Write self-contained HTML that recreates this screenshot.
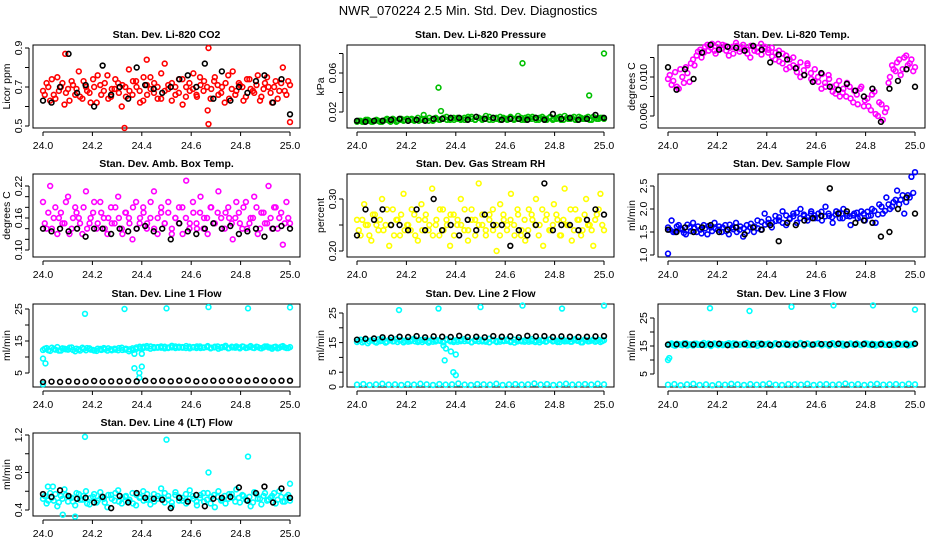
<!DOCTYPE html>
<html><head><meta charset="utf-8">
<style>
html,body{margin:0;padding:0;background:#fff;}
svg{display:block;font-family:"Liberation Sans",sans-serif;}
</style></head>
<body>
<svg id="chart" width="936" height="540" viewBox="0 0 936 540" xmlns="http://www.w3.org/2000/svg">
<rect width="936" height="540" fill="#fff"/>
<text x="468" y="15" text-anchor="middle" font-size="13">NWR_070224  2.5 Min. Std. Dev. Diagnostics</text>
</svg>
<script>
// ---------- data ----------
const co2Red=[0.68,0.72,0.63,0.66,0.75,0.70,0.61,0.69,0.73,0.66,0.78,0.64,0.70,0.67,0.74,0.62,0.71,0.68,0.76,0.65,0.69,0.72,0.60,0.70,0.79,0.66,0.73,0.68,0.63,0.71,0.75,0.67,0.70,0.64,0.82,0.69,0.72,0.66,0.74,0.61,0.70,0.68,0.77,0.65,0.71,0.73,0.58,0.69,0.75,0.66,0.70,0.72,0.64,0.78,0.68,0.71,0.63,0.74,0.69,0.67,0.76,0.65,0.72,0.70,0.62,0.73,0.68,0.80,0.66,0.71];
const co2Red2=[0.66,0.70,0.74,0.64,0.68,0.72,0.67,0.63,0.71,0.69,0.65,0.73,0.68,0.62,0.70,0.76,0.66,0.72,0.64,0.69,0.74,0.67,0.71,0.65,0.68,0.73,0.70,0.62,0.75,0.66,0.69,0.72,0.64,0.77,0.68,0.71,0.63,0.70,0.67,0.74,0.65,0.72,0.69,0.66,0.75,0.68,0.70,0.64,0.73,0.71,0.67,0.62,0.76,0.69,0.66,0.72,0.70,0.65,0.74,0.68,0.71,0.63,0.69,0.75,0.67,0.70,0.64,0.72,0.68,0.73];
const co2OutX=[24.33,24.67,25.0,24.67,24.09,24.42];
const co2OutY=[0.49,0.51,0.52,0.90,0.87,0.84];
const co2Black=[0.63,0.62,0.70,0.87,0.67,0.71,0.60,0.81,0.66,0.70,0.64,0.80,0.71,0.69,0.67,0.70,0.74,0.76,0.70,0.82,0.64,0.78,0.63,0.70,0.67,0.73,0.76,0.62,0.74,0.56];

const presGreen=[0.010,0.011,0.010,0.012,0.010,0.011,0.011,0.010,0.012,0.011,0.013,0.010,0.012,0.011,0.013,0.012,0.011,0.014,0.012,0.013,0.011,0.012,0.014,0.012,0.013,0.015,0.012,0.014,0.013,0.012,0.014,0.013,0.015,0.012,0.014,0.013,0.016,0.012,0.014,0.013,0.015,0.013,0.012,0.014,0.013,0.016,0.012,0.014,0.013,0.015,0.012,0.014,0.013,0.012,0.015,0.013,0.014,0.012,0.016,0.013,0.014,0.012,0.015,0.013,0.014,0.012,0.015,0.013,0.014,0.013];
const presGreen2=[0.011,0.010,0.012,0.011,0.010,0.012,0.010,0.011,0.013,0.010,0.012,0.011,0.013,0.012,0.011,0.013,0.012,0.011,0.013,0.012,0.014,0.011,0.013,0.012,0.014,0.012,0.013,0.012,0.014,0.013,0.012,0.015,0.013,0.012,0.014,0.012,0.013,0.015,0.012,0.014,0.012,0.014,0.013,0.015,0.012,0.013,0.014,0.012,0.015,0.013,0.014,0.012,0.015,0.013,0.014,0.012,0.013,0.015,0.012,0.014,0.013,0.015,0.012,0.014,0.013,0.015,0.012,0.014,0.013,0.014];
const presOutX=[24.33,24.67,24.94,25.0,24.34,24.27];
const presOutY=[0.045,0.070,0.037,0.080,0.021,0.017];
const presBlack=[0.011,0.010,0.011,0.011,0.012,0.013,0.011,0.012,0.011,0.013,0.013,0.014,0.014,0.012,0.015,0.013,0.014,0.012,0.013,0.013,0.012,0.014,0.012,0.018,0.013,0.014,0.012,0.013,0.017,0.014];

const tempMag=[0.0098,0.0092,0.0105,0.0088,0.0100,0.0110,0.0095,0.0118,0.0122,0.0128,0.0125,0.0133,0.0130,0.0127,0.0134,0.0129,0.0132,0.0122,0.0131,0.0135,0.0126,0.0133,0.0128,0.0120,0.0131,0.0126,0.0134,0.0129,0.0125,0.0130,0.0118,0.0127,0.0114,0.0122,0.0110,0.0120,0.0105,0.0115,0.0102,0.0112,0.0098,0.0108,0.0095,0.0103,0.0090,0.0098,0.0085,0.0092,0.0080,0.0088,0.0094,0.0078,0.0086,0.0072,0.0090,0.0076,0.0070,0.0082,0.0062,0.0074,0.0056,0.0068,0.0100,0.0108,0.0115,0.0102,0.0120,0.0112,0.0118,0.0110];
const tempMag2=[0.0102,0.0096,0.0090,0.0108,0.0094,0.0104,0.0114,0.0112,0.0126,0.0120,0.0131,0.0127,0.0134,0.0124,0.0130,0.0133,0.0127,0.0130,0.0124,0.0132,0.0129,0.0130,0.0124,0.0132,0.0127,0.0130,0.0123,0.0131,0.0128,0.0121,0.0125,0.0116,0.0124,0.0108,0.0118,0.0112,0.0110,0.0100,0.0107,0.0114,0.0104,0.0096,0.0100,0.0088,0.0094,0.0102,0.0090,0.0083,0.0096,0.0084,0.0080,0.0090,0.0074,0.0082,0.0088,0.0070,0.0078,0.0066,0.0085,0.0060,0.0072,0.0064,0.0094,0.0112,0.0106,0.0118,0.0108,0.0122,0.0114,0.0106];
const tempBlack=[0.0110,0.0087,0.0108,0.0098,0.0125,0.0133,0.0128,0.0131,0.0130,0.0127,0.0132,0.0128,0.0115,0.0123,0.0118,0.0109,0.0102,0.0095,0.0104,0.0090,0.0087,0.0093,0.0086,0.0080,0.0088,0.0054,0.0088,0.0096,0.0108,0.0090];

const ambMag=[0.19,0.14,0.22,0.16,0.13,0.17,0.15,0.20,0.14,0.18,0.16,0.13,0.21,0.15,0.17,0.14,0.19,0.16,0.13,0.18,0.15,0.20,0.14,0.17,0.16,0.12,0.19,0.15,0.18,0.14,0.16,0.21,0.13,0.17,0.15,0.19,0.14,0.16,0.18,0.13,0.23,0.15,0.17,0.14,0.20,0.16,0.13,0.18,0.15,0.21,0.14,0.17,0.16,0.12,0.19,0.15,0.18,0.14,0.16,0.20,0.13,0.17,0.15,0.22,0.14,0.18,0.16,0.11,0.19,0.15];
const ambMag2=[0.15,0.17,0.14,0.18,0.16,0.15,0.19,0.13,0.16,0.17,0.15,0.18,0.14,0.16,0.19,0.15,0.17,0.14,0.16,0.15,0.18,0.16,0.13,0.17,0.15,0.18,0.14,0.16,0.17,0.15,0.19,0.14,0.16,0.18,0.15,0.17,0.13,0.16,0.15,0.18,0.16,0.14,0.19,0.15,0.17,0.14,0.16,0.18,0.15,0.17,0.16,0.14,0.18,0.15,0.16,0.17,0.14,0.19,0.15,0.16,0.18,0.14,0.17,0.15,0.16,0.18,0.14,0.17,0.15,0.16];
const ambBlack=[0.14,0.135,0.14,0.135,0.14,0.125,0.14,0.14,0.13,0.14,0.135,0.14,0.145,0.135,0.14,0.12,0.15,0.135,0.13,0.14,0.15,0.14,0.145,0.13,0.135,0.14,0.125,0.14,0.145,0.14];

const rhYellow=[0.26,0.23,0.29,0.25,0.22,0.27,0.24,0.30,0.25,0.21,0.28,0.26,0.23,0.31,0.25,0.24,0.27,0.22,0.29,0.26,0.24,0.32,0.25,0.23,0.28,0.26,0.21,0.27,0.25,0.30,0.24,0.22,0.28,0.26,0.33,0.25,0.23,0.27,0.24,0.20,0.29,0.26,0.25,0.31,0.23,0.27,0.24,0.22,0.28,0.26,0.30,0.25,0.21,0.27,0.24,0.29,0.26,0.23,0.32,0.25,0.22,0.28,0.26,0.24,0.30,0.25,0.21,0.27,0.31,0.24];
const rhYellow2=[0.24,0.26,0.25,0.23,0.27,0.25,0.26,0.24,0.28,0.25,0.23,0.26,0.27,0.24,0.25,0.28,0.23,0.26,0.24,0.27,0.25,0.23,0.26,0.28,0.24,0.25,0.27,0.23,0.26,0.25,0.28,0.24,0.26,0.23,0.25,0.27,0.24,0.26,0.28,0.25,0.23,0.27,0.24,0.26,0.25,0.28,0.23,0.26,0.24,0.27,0.25,0.23,0.28,0.26,0.24,0.25,0.27,0.23,0.26,0.25,0.28,0.24,0.26,0.23,0.27,0.25,0.24,0.26,0.28,0.25];
const rhBlack=[0.23,0.28,0.26,0.28,0.25,0.25,0.24,0.28,0.24,0.30,0.24,0.25,0.23,0.26,0.24,0.27,0.25,0.25,0.21,0.24,0.23,0.25,0.33,0.24,0.25,0.25,0.24,0.26,0.28,0.27];

const flowBlue=[1.60,1.75,1.50,1.65,1.55,1.45,1.60,1.70,1.50,1.55,1.65,1.45,1.60,1.70,1.55,1.50,1.65,1.45,1.60,1.70,1.55,1.40,1.65,1.60,1.50,1.75,1.55,1.90,1.70,1.60,1.85,1.75,1.95,1.65,1.80,1.90,1.70,2.00,1.85,1.75,1.95,1.80,1.90,1.75,2.05,1.85,1.70,1.95,1.80,2.00,1.85,1.65,1.90,1.80,1.95,1.75,1.85,2.00,1.70,2.10,1.90,2.25,2.00,2.15,2.40,2.20,1.90,2.30,2.70,2.80];
const flowBlue2=[1.55,1.50,1.62,1.58,1.48,1.66,1.52,1.58,1.62,1.47,1.58,1.63,1.52,1.57,1.62,1.60,1.52,1.66,1.56,1.50,1.62,1.58,1.52,1.68,1.62,1.58,1.72,1.66,1.78,1.70,1.74,1.82,1.70,1.86,1.78,1.84,1.92,1.80,1.88,1.82,1.90,1.86,1.80,1.94,1.84,1.90,1.82,1.88,1.92,1.80,1.90,1.84,1.86,1.92,1.82,1.90,1.94,1.86,1.96,1.88,2.05,1.96,2.10,2.05,2.20,2.10,2.30,2.15,2.25,2.35];
const flowOutX=[24.0];
const flowOutY=[1.03];
const flowBlack=[1.55,1.50,1.60,1.50,1.60,1.65,1.50,1.55,1.60,1.45,1.60,1.55,1.65,1.30,1.70,1.65,1.75,1.80,1.85,2.45,1.90,1.95,1.70,1.75,1.70,1.40,1.50,2.00,2.25,1.90];

const line1Cyan=[12.2,12.8,11.9,12.5,13.1,12.0,12.6,12.3,13.0,11.8,12.4,12.9,12.1,12.7,12.2,11.9,12.5,12.8,12.0,12.4,12.6,12.1,12.9,12.3,11.8,12.7,12.5,13.2,12.8,13.4,12.6,13.1,12.9,13.3,12.7,13.0,13.5,12.8,13.2,12.9,13.4,12.7,13.1,13.3,12.8,13.0,13.4,12.9,13.2,12.6,13.1,13.5,12.8,13.0,13.3,12.7,13.2,12.9,13.4,12.8,13.1,12.7,13.3,13.0,12.6,13.2,12.9,13.4,12.8,13.1];
const line1Cyan2=[12.6,12.1,12.9,12.3,12.0,12.7,12.4,12.9,12.2,12.6,12.0,12.5,12.8,12.3,12.0,12.6,12.2,12.4,12.7,12.1,12.3,12.8,12.2,12.6,12.4,12.2,13.0,12.7,13.2,12.9,13.3,12.8,13.1,12.9,13.2,12.8,13.0,13.3,12.9,13.1,12.8,13.2,13.0,12.8,13.3,12.9,13.1,12.7,13.0,13.3,12.9,13.1,12.7,13.2,12.9,13.0,13.3,12.8,13.1,12.9,13.2,12.8,13.0,13.3,12.9,13.1,12.7,13.2,13.0,12.8];
const line1OutX=[24.0,24.01,24.17,24.33,24.5,24.67,24.83,25.0,24.37,24.4,24.39,24.39,24.4,24.37,24.0];
const line1OutY=[9.5,8,23.5,25,25.2,25.6,25.2,25.5,6.5,7,5,3.5,11,11,1.5];
const line1Black=[2.2,2.3,2.2,2.4,2.3,2.3,2.5,2.3,2.4,2.4,2.5,2.4,2.6,2.5,2.6,2.4,2.6,2.7,2.4,2.5,2.6,2.5,2.7,2.6,2.5,2.7,2.6,2.5,2.6,2.6];

const line2Cyan=[15.2,16.0,15.5,14.8,15.8,15.3,16.1,15.6,15.0,15.9,15.4,16.2,15.7,15.1,15.8,15.5,16.3,15.2,15.9,15.6,15.0,16.0,15.4,15.8,15.3,16.1,15.7,15.2,15.9,15.5,16.2,15.6,15.1,16.0,15.4,15.8,15.3,16.3,15.7,15.2,15.9,15.5,16.1,15.6,15.0,16.0,15.4,15.8,15.3,16.2,15.7,15.1,15.9,15.5,16.1,15.6,15.2,16.0,15.4,15.8,15.3,16.2,15.7,15.1,15.9,15.5,16.0,15.6,15.2,15.8];
const line2Cyan2=[15.6,15.1,16.0,15.4,15.7,15.0,15.5,16.1,15.3,15.8,15.5,15.2,15.9,15.6,15.3,16.0,15.4,15.7,15.2,15.9,15.5,15.3,15.8,15.6,15.1,15.9,15.4,15.7,15.3,16.0,15.5,15.8,15.2,15.6,16.1,15.4,15.7,15.1,15.9,15.5,15.3,15.8,15.6,15.2,16.0,15.4,15.7,15.3,15.9,15.5,15.2,15.8,15.6,15.3,16.0,15.4,15.7,15.2,15.9,15.5,15.3,15.8,15.6,15.1,16.0,15.4,15.7,15.3,15.9,15.5];
const line2Low=[0.8,1.0,0.7,0.9,1.1,0.8,0.9,0.7,1.0,0.8,1.1,0.9,0.7,1.0,0.8,0.9,1.2,0.8,0.7,1.0,0.9,0.8,1.1,0.7,0.9,1.0,0.8,0.9,1.2,0.8,1.0,0.7,0.9,1.1,0.8,0.9,1.0,0.8,1.1,0.9];
const line2OutX=[24.17,24.33,24.5,24.67,24.83,25.0,24.35,24.36,24.355,24.39,24.4,24.38,24.4];
const line2OutY=[26,26.5,27,27.5,26.5,27.5,14,13,9,5,4,12,11];
const line2Black=[16.0,16.3,16.4,16.8,16.7,17.0,16.9,17.2,16.8,17.1,17.0,16.9,17.3,16.9,17.0,16.8,17.2,17.0,17.1,16.8,17.3,17.1,17.2,16.9,17.1,17.0,16.9,17.0,17.1,17.2];

const line3Cyan=[15.4,15.9,15.1,15.7,15.3,16.0,15.5,15.2,15.8,15.4,16.1,15.6,15.0,15.9,15.3,15.7,15.5,16.0,15.2,15.8,15.4,15.6,16.1,15.3,15.7,15.1,15.9,15.5,15.8,15.2,16.0,15.4,15.6,15.9,15.3,15.7,15.5,16.1,15.2,15.8,15.4,15.6,15.9,15.3,15.7,15.1,16.0,15.5,15.8,15.2,15.6,15.9,15.4,15.7,15.3,16.0,15.5,15.8,15.2,15.6,15.9,15.4,15.7,15.3,16.0,15.5,15.8,15.2,15.6,15.9];
const line3Cyan2=[15.7,15.3,15.8,15.5,15.9,15.2,15.6,15.8,15.4,15.7,15.3,15.9,15.5,15.6,15.8,15.3,15.7,15.4,15.9,15.5,15.6,15.8,15.3,15.7,15.5,15.9,15.4,15.6,15.8,15.3,15.7,15.5,15.9,15.4,15.6,15.8,15.3,15.7,15.5,15.9,15.4,15.6,15.8,15.3,15.7,15.5,15.9,15.4,15.6,15.8,15.3,15.7,15.5,15.9,15.4,15.6,15.8,15.3,15.7,15.5,15.9,15.4,15.6,15.8,15.3,15.7,15.5,15.9,15.4,15.6];
const line3Low=[1.2,1.4,1.0,1.3,1.5,1.1,1.3,1.0,1.4,1.2,1.5,1.3,1.1,1.4,1.2,1.3,1.6,1.2,1.1,1.4,1.3,1.2,1.5,1.1,1.3,1.4,1.2,1.3,1.6,1.2,1.4,1.1,1.3,1.5,1.2,1.3,1.4,1.2,1.5,1.3];
const line3OutX=[24.0,24.005,24.17,24.33,24.5,24.67,24.83,25.0];
const line3OutY=[10,10.7,28.5,27.5,29,29.5,29.5,28];
const line3Black=[15.5,15.6,15.7,15.5,15.4,15.6,15.8,15.3,15.5,15.6,15.5,15.7,15.4,15.6,15.5,15.4,15.6,15.5,15.7,15.6,15.8,15.5,15.6,15.7,15.5,15.6,15.4,15.7,15.5,15.8];

const line4Cyan=[0.52,0.47,0.58,0.50,0.44,0.55,0.62,0.49,0.53,0.45,0.57,0.51,0.60,0.46,0.54,0.48,0.59,0.52,0.43,0.56,0.50,0.61,0.47,0.54,0.49,0.58,0.45,0.53,0.60,0.51,0.46,0.57,0.52,0.63,0.48,0.55,0.44,0.59,0.50,0.53,0.47,0.61,0.52,0.45,0.56,0.49,0.58,0.54,0.43,0.60,0.51,0.47,0.57,0.53,0.62,0.48,0.55,0.50,0.44,0.59,0.52,0.46,0.58,0.51,0.55,0.47,0.60,0.49,0.54,0.50];
const line4Cyan2=[0.55,0.50,0.53,0.57,0.48,0.52,0.56,0.54,0.49,0.58,0.51,0.55,0.47,0.53,0.57,0.50,0.54,0.48,0.56,0.52,0.58,0.49,0.53,0.55,0.51,0.47,0.56,0.54,0.50,0.57,0.52,0.49,0.55,0.53,0.58,0.51,0.48,0.56,0.54,0.50,0.57,0.52,0.55,0.49,0.53,0.58,0.51,0.47,0.56,0.54,0.50,0.55,0.52,0.57,0.49,0.53,0.56,0.51,0.54,0.48,0.57,0.52,0.55,0.50,0.53,0.58,0.51,0.54,0.49,0.56];
const line4OutX=[24.17,24.5,24.67,24.83,25.0,24.13,24.08,24.02,24.04];
const line4OutY=[1.18,1.15,0.80,0.97,0.68,0.33,0.35,0.65,0.65];
const line4Black=[0.57,0.54,0.61,0.55,0.52,0.53,0.48,0.54,0.42,0.55,0.48,0.58,0.53,0.52,0.51,0.42,0.53,0.49,0.56,0.44,0.52,0.53,0.54,0.64,0.50,0.58,0.65,0.48,0.63,0.53];

const xTicks=[24.0,24.2,24.4,24.6,24.8,25.0];
const xTickLabels=["24.0","24.2","24.4","24.6","24.8","25.0"];

// ---------- drawing ----------
const NS="http://www.w3.org/2000/svg";
const svg=document.getElementById('chart');
function mk(tag,attrs,parent){const e=document.createElementNS(NS,tag);for(const k in attrs)e.setAttribute(k,attrs[k]);(parent||svg).appendChild(e);return e;}
const colL=[33,347,658], rowT=[45,174,304,433], W=267, H=83;

function panel(p){
  const L=colL[p.col], T=rowT[p.row];
  const g=mk('g',{});
  
  
  const xs=v=>L+10+(v-24)*247;
  const ys=v=>p.py1+(v-p.v1)*(p.py2-p.py1)/(p.v2-p.v1);
  const t=mk('text',{x:L+W/2,y:T-7,'text-anchor':'middle','font-size':'10.5','font-weight':'bold'},g);
  t.textContent=p.title;
  
  
  const box=mk('rect',{x:L,y:T,width:W,height:H,fill:'none',stroke:'#000','stroke-width':1},g);
  
  
  const xa=mk('g',{},g);
  
  
  mk('line',{x1:xs(24),x2:xs(25),y1:T+H+4,y2:T+H+4,stroke:'#000'},xa);
  xTicks.forEach((v,i)=>{
    mk('line',{x1:xs(v),x2:xs(v),y1:T+H+4,y2:T+H+8,stroke:'#000'},xa);
    const tl=mk('text',{x:xs(v),y:T+H+21,'text-anchor':'middle','font-size':'10.5'},xa);
    tl.textContent=xTickLabels[i];
    
    
  });
  const ya=mk('g',{},g);
  
  
  const yt=p.yticks;
  mk('line',{x1:L-4,x2:L-4,y1:ys(yt[0]),y2:ys(yt[yt.length-1]),stroke:'#000'},ya);
  yt.forEach((v,i)=>{
    const y=ys(v);
    mk('line',{x1:L-8,x2:L-4,y1:y,y2:y,stroke:'#000'},ya);
    if(p.ylabels[i]){
      const tl=mk('text',{x:0,y:0,'text-anchor':'middle','font-size':'10.5',transform:`translate(${L-11},${y}) rotate(-90)`},ya);
      tl.textContent=p.ylabels[i];
      
      
    }
  });
  const yl=mk('text',{x:0,y:0,'text-anchor':'middle','font-size':'10.5',transform:`translate(${L-23},${T+H/2}) rotate(-90)`},ya);
  yl.textContent=p.ylab;
  
  
  p.series.forEach(s=>{
    const sg=mk('g',{fill:'none',stroke:s.color,'stroke-width':1.6},g);
    
    
    const n=s.y.length;
    const off=s.half?0.5:0;
    s.y.forEach((v,i)=>{
      const xv=s.x?s.x[i]:24+(i+off)/(n-1+off*2);
      const c=mk('circle',{cx:xs(xv),cy:ys(v),r:2.4},sg);
      
      
    });
  });
}

panel({name:'panel-co2',col:0,row:0,title:'Stan. Dev. Li-820 CO2',ylab:'Licor ppm',v1:0.5,py1:126,v2:0.9,py2:48,
  yticks:[0.5,0.6,0.7,0.8,0.9],ylabels:['0.5','','0.7','','0.9'],
  series:[{name:'co2-red-series',color:'#ff0000',y:co2Red},{name:'co2-red-series-2',color:'#ff0000',y:co2Red2,half:true},{name:'co2-red-outliers',color:'#ff0000',x:co2OutX,y:co2OutY},{name:'co2-black-series',color:'#000',y:co2Black}]});
panel({name:'panel-pressure',col:1,row:0,title:'Stan. Dev. Li-820 Pressure',ylab:'kPa',v1:0.02,py1:112,v2:0.06,py2:73,
  yticks:[0.02,0.04,0.06,0.08],ylabels:['0.02','','0.06',''],
  series:[{name:'pressure-green-series',color:'#00c000',y:presGreen},{name:'pressure-green-series-2',color:'#00c000',y:presGreen2,half:true},{name:'pressure-green-outliers',color:'#00c000',x:presOutX,y:presOutY},{name:'pressure-black-series',color:'#000',y:presBlack}]});
panel({name:'panel-temp',col:2,row:0,title:'Stan. Dev. Li-820 Temp.',ylab:'degrees C',v1:0.006,py1:116,v2:0.010,py2:77,
  yticks:[0.006,0.008,0.010,0.012],ylabels:['0.006','','0.010',''],
  series:[{name:'temp-magenta-series',color:'#ff00ff',y:tempMag},{name:'temp-magenta-series-2',color:'#ff00ff',y:tempMag2,half:true},{name:'temp-black-series',color:'#000',y:tempBlack}]});
panel({name:'panel-ambbox',col:0,row:1,title:'Stan. Dev. Amb. Box Temp.',ylab:'degrees C',v1:0.10,py1:250,v2:0.22,py2:186,
  yticks:[0.10,0.12,0.14,0.16,0.18,0.20,0.22],ylabels:['0.10','','','0.16','','','0.22'],
  series:[{name:'ambbox-magenta-series',color:'#ff00ff',y:ambMag},{name:'ambbox-magenta-series-2',color:'#ff00ff',y:ambMag2,half:true},{name:'ambbox-black-series',color:'#000',y:ambBlack}]});
panel({name:'panel-rh',col:1,row:1,title:'Stan. Dev. Gas Stream RH',ylab:'percent',v1:0.20,py1:251,v2:0.30,py2:199,
  yticks:[0.20,0.25,0.30],ylabels:['0.20','','0.30'],
  series:[{name:'rh-yellow-series',color:'#ffff00',y:rhYellow},{name:'rh-yellow-series-2',color:'#ffff00',y:rhYellow2,half:true},{name:'rh-black-series',color:'#000',y:rhBlack}]});
panel({name:'panel-sampleflow',col:2,row:1,title:'Stan. Dev. Sample Flow',ylab:'ml/min',v1:1.0,py1:255,v2:2.5,py2:186,
  yticks:[1.0,1.5,2.0,2.5],ylabels:['1.0','1.5','2.0','2.5'],
  series:[{name:'flow-blue-series',color:'#0000ff',y:flowBlue},{name:'flow-blue-series-2',color:'#0000ff',y:flowBlue2,half:true},{name:'flow-blue-outliers',color:'#0000ff',x:flowOutX,y:flowOutY},{name:'flow-black-series',color:'#000',y:flowBlack}]});
panel({name:'panel-line1',col:0,row:2,title:'Stan. Dev. Line 1 Flow',ylab:'ml/min',v1:5,py1:373,v2:25,py2:309,
  yticks:[5,10,15,20,25],ylabels:['5','','15','','25'],
  series:[{name:'line1-cyan-series',color:'#00ffff',y:line1Cyan},{name:'line1-cyan-series-2',color:'#00ffff',y:line1Cyan2,half:true},{name:'line1-cyan-outliers',color:'#00ffff',x:line1OutX,y:line1OutY},{name:'line1-black-series',color:'#000',y:line1Black}]});
panel({name:'panel-line2',col:1,row:2,title:'Stan. Dev. Line 2 Flow',ylab:'ml/min',v1:0,py1:387,v2:25,py2:313,
  yticks:[0,5,10,15,20,25],ylabels:['0','5','','15','','25'],
  series:[{name:'line2-cyan-series',color:'#00ffff',y:line2Cyan},{name:'line2-cyan-series-2',color:'#00ffff',y:line2Cyan2,half:true},{name:'line2-cyan-low',color:'#00ffff',y:line2Low},{name:'line2-cyan-outliers',color:'#00ffff',x:line2OutX,y:line2OutY},{name:'line2-black-series',color:'#000',y:line2Black}]});
panel({name:'panel-line3',col:2,row:2,title:'Stan. Dev. Line 3 Flow',ylab:'ml/min',v1:5,py1:374,v2:25,py2:318,
  yticks:[5,10,15,20,25],ylabels:['5','','15','','25'],
  series:[{name:'line3-cyan-series',color:'#00ffff',y:line3Cyan},{name:'line3-cyan-series-2',color:'#00ffff',y:line3Cyan2,half:true},{name:'line3-cyan-low',color:'#00ffff',y:line3Low},{name:'line3-cyan-outliers',color:'#00ffff',x:line3OutX,y:line3OutY},{name:'line3-black-series',color:'#000',y:line3Black}]});
panel({name:'panel-line4',col:0,row:3,title:'Stan. Dev. Line 4 (LT) Flow',ylab:'ml/min',v1:0.4,py1:510,v2:1.2,py2:435,
  yticks:[0.4,0.6,0.8,1.0,1.2],ylabels:['0.4','','0.8','','1.2'],
  series:[{name:'line4-cyan-series',color:'#00ffff',y:line4Cyan},{name:'line4-cyan-series-2',color:'#00ffff',y:line4Cyan2,half:true},{name:'line4-cyan-outliers',color:'#00ffff',x:line4OutX,y:line4OutY},{name:'line4-black-series',color:'#000',y:line4Black}]});
</script>
</body></html>
